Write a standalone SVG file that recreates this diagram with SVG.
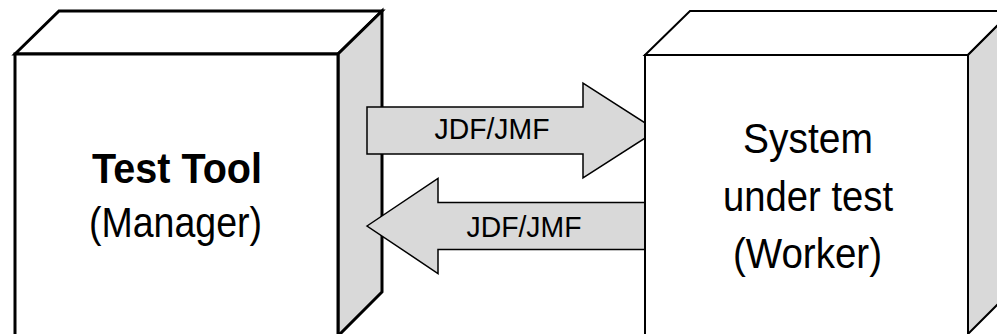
<svg xmlns="http://www.w3.org/2000/svg" width="997" height="334" viewBox="0 0 997 334">
<style>
.face{fill:#ffffff;stroke:#000;stroke-linejoin:miter}
.side{fill:#d9d9d9;stroke:#000;stroke-linejoin:miter}
.b1{stroke-width:3}
.b2{stroke-width:2}
.arrow{fill:#d9d9d9;stroke:#000;stroke-width:1.5;stroke-linejoin:miter}
text{font-family:"Liberation Sans",Arial,sans-serif;fill:#000;text-anchor:middle}
.lbl{font-size:30px}
.big{font-size:43px}
</style>
<rect width="997" height="334" fill="#ffffff"/>
<g id="test-tool">
<polygon class="face b1" points="15,54 59,11 382,11 338,54"/>
<polygon class="side b1" points="338,54 382,11 382,292 338,336"/>
<rect class="face b1" x="15" y="54" width="323" height="282"/>
<text class="big" x="177" y="183" font-weight="bold" textLength="170" lengthAdjust="spacingAndGlyphs">Test Tool</text>
<text class="big" x="175.5" y="237" textLength="173" lengthAdjust="spacingAndGlyphs">(Manager)</text>
</g>
<g id="connectors">
<g id="arrow-request">
<polygon class="arrow" points="367,107 583,107 583,83 657,130.5 583,178 583,154 367,154"/>
<text class="lbl" x="492" y="139" textLength="115" lengthAdjust="spacingAndGlyphs">JDF/JMF</text>
</g>
<g id="arrow-response">
<polygon class="arrow" points="367,226 438,178.5 438,202.5 660,202.5 660,249.5 438,249.5 438,273.5"/>
<text class="lbl" x="524" y="237" textLength="115" lengthAdjust="spacingAndGlyphs">JDF/JMF</text>
</g>
</g>
<g id="system-under-test">
<polygon class="face b2" points="645,55 690,11 1012,11 968,55"/>
<polygon class="side b2" points="968,55 1012,11 1012,290 968,334"/>
<rect class="face b2" x="645" y="55" width="323" height="282"/>
<text class="big" x="808" y="153" textLength="130" lengthAdjust="spacingAndGlyphs">System</text>
<text class="big" x="808" y="211" textLength="170" lengthAdjust="spacingAndGlyphs">under test</text>
<text class="big" x="807.5" y="268" textLength="149" lengthAdjust="spacingAndGlyphs">(Worker)</text>
</g>
</svg>
